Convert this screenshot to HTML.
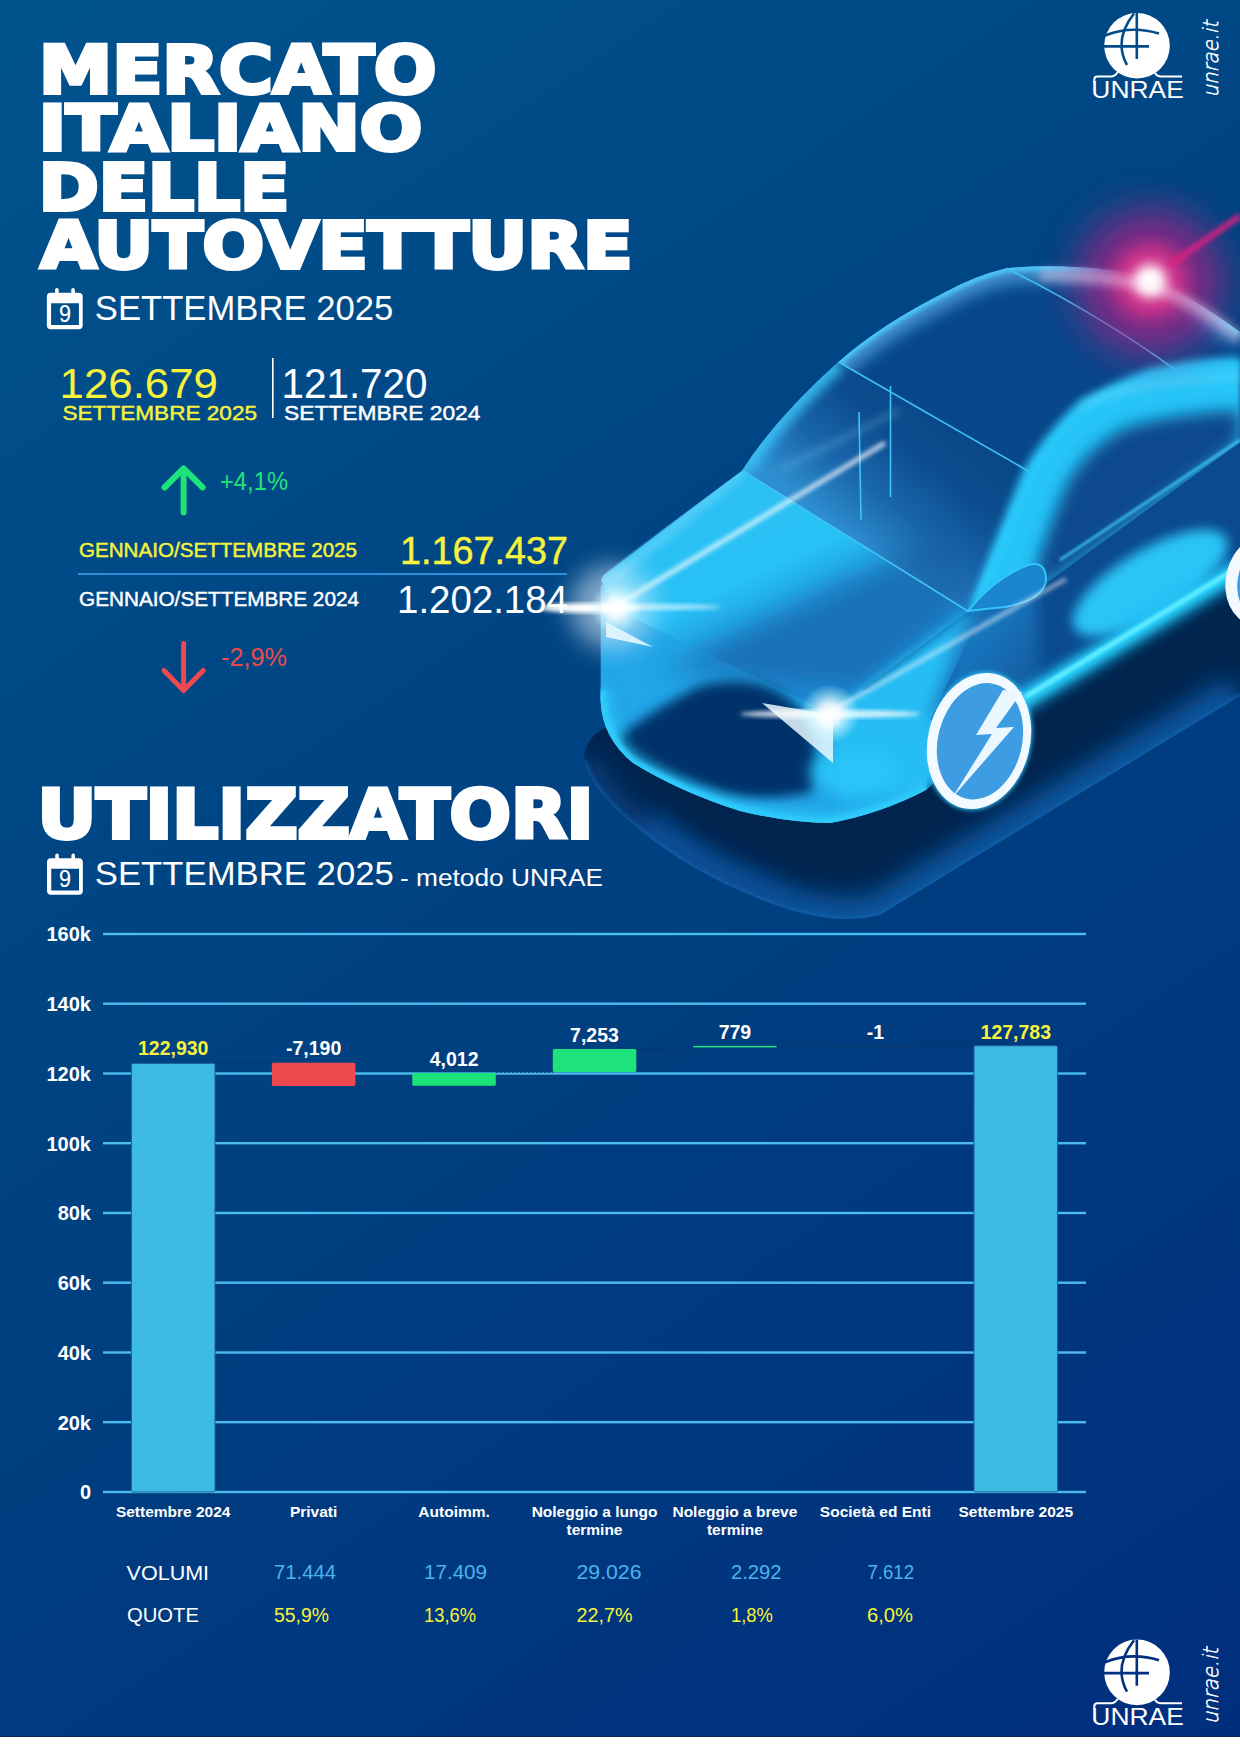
<!DOCTYPE html>
<html><head><meta charset="utf-8"><title>Mercato italiano delle autovetture - Settembre 2025</title>
<style>
html,body{margin:0;padding:0;background:#fff;}
#pg{position:relative;width:1240px;height:1755px;overflow:hidden;background:#fff;}
#bg{position:absolute;left:0;top:0;width:1240px;height:1737px;background:linear-gradient(146deg,#00538D 0%,#004080 52%,#002E7E 100%);}
svg{position:absolute;left:0;top:0;}
</style></head><body><div id="pg"><div id="bg"></div><div style="position:absolute;left:0;top:1736px;width:1240px;height:1px;background:#06285a"></div>
<svg width="1240" height="1755" viewBox="0 0 1240 1755" font-family='"Liberation Sans", Arial, sans-serif'><g id="car"><defs>
<filter id="b1" x="-20%" y="-20%" width="140%" height="140%"><feGaussianBlur stdDeviation="1"/></filter>
<filter id="b2" x="-20%" y="-20%" width="140%" height="140%"><feGaussianBlur stdDeviation="2"/></filter>
<filter id="b4" x="-30%" y="-30%" width="160%" height="160%"><feGaussianBlur stdDeviation="4"/></filter>
<filter id="b6" x="-30%" y="-30%" width="160%" height="160%"><feGaussianBlur stdDeviation="6"/></filter>
<filter id="b8" x="-30%" y="-30%" width="160%" height="160%"><feGaussianBlur stdDeviation="8"/></filter>
<filter id="b12" x="-40%" y="-40%" width="180%" height="180%"><feGaussianBlur stdDeviation="12"/></filter>
<filter id="b20" x="-50%" y="-50%" width="200%" height="200%"><feGaussianBlur stdDeviation="20"/></filter>
<radialGradient id="hl" cx="0.5" cy="0.5" r="0.5"><stop offset="0" stop-color="#fff"/><stop offset="0.35" stop-color="#fff" stop-opacity="0.85"/><stop offset="1" stop-color="#bff" stop-opacity="0"/></radialGradient>
<linearGradient id="shadowG" gradientUnits="userSpaceOnUse" x1="760" y1="760" x2="800" y2="915"><stop offset="0" stop-color="#01275A"/><stop offset="0.55" stop-color="#053670"/><stop offset="1" stop-color="#0B4A92"/></linearGradient>
<linearGradient id="wsG" gradientUnits="userSpaceOnUse" x1="800" y1="500" x2="900" y2="380"><stop offset="0" stop-color="#2E8FD0"/><stop offset="0.35" stop-color="#1A66AC"/><stop offset="0.7" stop-color="#0C4D8F"/><stop offset="1" stop-color="#0A4888"/></linearGradient>
<linearGradient id="crG" gradientUnits="userSpaceOnUse" x1="1090" y1="395" x2="1125" y2="470"><stop offset="0" stop-color="#2BCBFB"/><stop offset="0.6" stop-color="#24BEF4"/><stop offset="1" stop-color="#1468B0"/></linearGradient>
<linearGradient id="hoodG" gradientUnits="userSpaceOnUse" x1="700" y1="520" x2="760" y2="650"><stop offset="0" stop-color="#2DC0F4"/><stop offset="0.5" stop-color="#27C2F6"/><stop offset="1" stop-color="#1E8ED6"/></linearGradient>
<linearGradient id="doorG" gradientUnits="userSpaceOnUse" x1="1000" y1="600" x2="1100" y2="680"><stop offset="0" stop-color="#1A78C0"/><stop offset="1" stop-color="#0B4A8E"/></linearGradient>
<clipPath id="bodyClip"><path id="bodyP" d="M600.5 585 Q601 574 610 568 L742.3 470.5 Q776 418 838.5 362 Q880 325 947 291.3 Q975 276 1006.3 268.3 Q1040 265 1076.8 267.2 Q1120 269 1151 278.3 Q1190 296 1240 332 L1240 572 L1030 698 L926 790 Q880 814 830 823 Q790 823 740 811 Q680 792 633 763 Q602 738 600.5 700 Z"/></clipPath>
</defs><clipPath id="shClip"><path d="M610 726 Q585 735 584 760 Q590 790 640 830 Q700 880 790 910 Q840 925 880 915 L1240 696 L1240 560 Z"/></clipPath><path d="M610 726 Q585 735 584 760 Q590 790 640 830 Q700 880 790 910 Q840 925 880 915 L1240 696 L1240 560 Z" fill="#01254F"/><g clip-path="url(#shClip)"><path d="M640 830 Q700 880 790 910 Q840 925 880 915 L1240 696" fill="none" stroke="#0F5CA8" stroke-width="44" filter="url(#b12)" opacity="0.9"/><path d="M584 760 Q590 790 640 830 Q700 880 790 910" fill="none" stroke="#0A4A90" stroke-width="30" filter="url(#b12)" opacity="0.7"/><path d="M584 760 Q590 790 640 830 Q700 880 790 910 Q840 925 880 915 L1240 696" fill="none" stroke="#1566B2" stroke-width="4" filter="url(#b2)" opacity="0.8"/></g><use href="#bodyP" fill="#0C4D90"/><g clip-path="url(#bodyClip)"><path d="M838 362 Q900 315 1006 268 Q1100 262 1160 285 L1240 332 L1240 362 Q1150 365 1100 392 Q1060 420 1028 471 Z" fill="#07478A"/><path d="M742 471 Q776 418 838.5 362 Q880 325 947 291.3 Q975 276 1006.3 268.3 Q1040 265 1076.8 267.2 Q1120 269 1151 278.3 Q1190 296 1240 332" fill="none" stroke="#5AAEE6" stroke-width="30" opacity="0.75" filter="url(#b8)"/><path d="M742 471 Q776 418 838.5 362 Q880 325 947 291.3 Q975 276 1006.3 268.3 Q1040 265 1076.8 267.2 Q1120 269 1151 278.3 Q1190 296 1240 332" fill="none" stroke="#48C6F8" stroke-width="8" filter="url(#b2)"/><path d="M742.3 470.5 Q776 418 838.5 362 L1028.5 471.2 L968.5 611.5 Z" fill="url(#wsG)"/><path d="M742.3 470.5 Q776 418 838.5 362" fill="none" stroke="#3CC4F8" stroke-width="18" filter="url(#b6)" opacity="0.9"/><path d="M780 470 L900 410" stroke="#8fd4f5" stroke-width="5" opacity="0.35" filter="url(#b4)"/><path d="M600.5 585 L640 590 L830 690 L930 690 L926 790 Q880 814 830 823 Q790 823 740 811 Q680 792 633 763 Q602 738 600.5 700 Z" fill="#22A6E8"/><path d="M600 578 L742.3 470.5 L968.5 611.5 L830 712.7 L614.6 608.9 Z" fill="url(#hoodG)"/><path d="M660 670 L950 530 L968 600 L860 690 Z" fill="#125A9E" opacity="0.55" filter="url(#b12)"/><path d="M605 585 L742.3 470.5" stroke="#5FD2FA" stroke-width="10" filter="url(#b4)" opacity="0.8"/><path d="M830 712.7 L968.5 611.5 L1000 640 L930 790 L840 800 Z" fill="#27BDF4" filter="url(#b6)"/><path d="M612 744 Q640 716 700 686 Q740 676 770 688 Q800 700 812 730 Q820 760 812 792 Q770 802 730 796 Q670 782 635 763 Q616 752 612 744 Z" fill="#04306A" filter="url(#b6)"/><ellipse cx="855" cy="772" rx="45" ry="22" fill="#2BC6F8" filter="url(#b8)" opacity="0.9"/><path d="M600.5 690 Q602 738 633 763 Q680 792 740 811 Q790 823 830 823 Q880 814 926 790" fill="none" stroke="#2ECBFB" stroke-width="22" opacity="0.6" filter="url(#b6)"/><path d="M600.5 690 Q602 738 633 763 Q680 792 740 811 Q790 823 830 823 Q880 814 926 790" fill="none" stroke="#2ECBFB" stroke-width="10" filter="url(#b2)"/><path d="M600.5 585 L600.5 700" stroke="#52D4FF" stroke-width="8" filter="url(#b2)"/><path d="M968.5 611.5 Q1000 540 1028.5 471.2 Q1047 439.7 1076.8 410 Q1110 388 1151 373 Q1190 364 1240 361.8 L1240 446 L1037 592 Z" fill="#27C4F7" filter="url(#b2)"/><path d="M1240 410 Q1180 413 1130 426 Q1090 444 1068 482 Q1050 522 1035 572 L1040 590 L1240 442 Z" fill="#0A4A8C" filter="url(#b8)"/><path d="M975 608 Q1000 540 1028.5 471.2 Q1047 439.7 1076.8 410 Q1110 388 1151 373 Q1190 364 1240 361.8" fill="none" stroke="#2ACBFC" stroke-width="10" filter="url(#b4)"/><path d="M1080 405 Q1140 380 1240 376" fill="none" stroke="#5AD8FF" stroke-width="8" opacity="0.6" filter="url(#b4)"/><path d="M985 606 L1037 590 L1240 442 L1240 572 L1030 698 L930 720 Z" fill="#0B4A8E"/><path d="M1060 560 L1240 440" stroke="#3FC8F8" stroke-width="3" opacity="0.8" filter="url(#b1)"/><path d="M968.5 611.5 L1037 590 L1040 690 L930 720 Z" fill="url(#doorG)" filter="url(#b8)"/><ellipse cx="1150" cy="583" rx="88" ry="33" transform="rotate(-31 1150 583)" fill="#2BC4F6" filter="url(#b6)"/></g><path d="M1015 706 L1240 570" stroke="#1FB8F0" stroke-width="26" opacity="0.55" filter="url(#b6)"/><path d="M1020 702 L1240 568" stroke="#26D4FF" stroke-width="14" filter="url(#b4)"/><path d="M1020 700 L1240 566" stroke="#5CE8FF" stroke-width="5" filter="url(#b1)"/><path d="M968 611 Q995 578 1028 565 Q1046 560 1046 580 Q1044 600 1005 607 Q985 609 968 611 Z" fill="#1A86D0" stroke="#36C4F8" stroke-width="2"/><g stroke="#3FC3F7" stroke-width="1.6" fill="none"><path d="M838.5 362 L1028.5 471.2"/><path d="M742.3 470.5 L968.5 611.5"/><path d="M1006.3 268.3 Q1100 315 1177 371"/><path d="M859 412 L861 520"/><path d="M890.5 386 L890.5 497"/></g><path d="M614 607 L885 443" stroke="#ffffff" stroke-width="5" opacity="0.7" filter="url(#b2)"/><path d="M830 712 L1066 579" stroke="#ffffff" stroke-width="4" opacity="0.55" filter="url(#b2)"/><polygon points="606,622 653,647 606,637" fill="#e8f8ff" opacity="0.9"/><polygon points="762,703 833,715 833,763" fill="#e8f8ff" opacity="0.85"/><circle cx="612" cy="607" r="42" fill="#e6f4ff" opacity="0.55" filter="url(#b12)"/><ellipse cx="590" cy="608" rx="50" ry="5" fill="#fff" filter="url(#b2)"/><ellipse cx="660" cy="607" rx="60" ry="3" fill="#fff" opacity="0.6" filter="url(#b2)"/><circle cx="616" cy="608" r="26" fill="url(#hl)"/><ellipse cx="830" cy="714" rx="90" ry="4" fill="#fff" opacity="0.8" filter="url(#b2)"/><circle cx="830" cy="714" r="30" fill="url(#hl)"/><g transform="rotate(14 979 741)"><ellipse cx="979" cy="741" rx="52" ry="70" fill="#2EC0F5" filter="url(#b2)"/><ellipse cx="979" cy="741" rx="51" ry="69" fill="#F2FAFF"/><ellipse cx="980" cy="741" rx="42" ry="59" fill="#3E9CE2"/></g><path d="M1003 690 L976 735 L992 734 L952 798 L1014 727 L996 728 L1022 692 Z" fill="#EAF7FF"/><g transform="rotate(14 1262 580)"><ellipse cx="1262" cy="580" rx="36" ry="46" fill="#F2FAFF"/><ellipse cx="1266" cy="580" rx="28" ry="38" fill="#3E9CE2"/></g><circle cx="1150" cy="282" r="72" fill="#A82385" opacity="0.8" filter="url(#b20)"/><circle cx="1150" cy="281" r="36" fill="#D8358C" opacity="0.9" filter="url(#b8)"/><path d="M1168 266 L1240 216" stroke="#D82080" stroke-width="7" opacity="0.85" filter="url(#b2)"/><path d="M1040 275 Q1100 275 1150 286 Q1200 303 1240 339" fill="none" stroke="#f0d8f0" stroke-width="12" opacity="0.45" filter="url(#b4)"/><circle cx="1150" cy="281" r="17" fill="#ffeaf4" filter="url(#b6)"/><circle cx="1150" cy="281" r="8" fill="#fff" filter="url(#b4)"/></g><text x="39.1" y="92.8" font-size="65.16" fill="#fff" font-weight="700" textLength="397.4" lengthAdjust="spacingAndGlyphs" stroke="#fff" stroke-width="4.0" stroke-linejoin="miter" font-family="DejaVu Sans">MERCATO</text><text x="38.7" y="150.0" font-size="63.1" fill="#fff" font-weight="700" textLength="383.4" lengthAdjust="spacingAndGlyphs" stroke="#fff" stroke-width="4.0" stroke-linejoin="miter" font-family="DejaVu Sans">ITALIANO</text><text x="38.7" y="209.7" font-size="64.2" fill="#fff" font-weight="700" textLength="250.8" lengthAdjust="spacingAndGlyphs" stroke="#fff" stroke-width="4.0" stroke-linejoin="miter" font-family="DejaVu Sans">DELLE</text><text x="40.5" y="268.0" font-size="63.51" fill="#fff" font-weight="700" textLength="592.0" lengthAdjust="spacingAndGlyphs" stroke="#fff" stroke-width="4.0" stroke-linejoin="miter" font-family="DejaVu Sans">AUTOVETTURE</text><text x="94.8" y="319.8" font-size="34.5" fill="#fff" textLength="298.5" lengthAdjust="spacingAndGlyphs">SETTEMBRE 2025</text><text x="59.5" y="398.0" font-size="43" fill="#F7F23C" textLength="158.5" lengthAdjust="spacingAndGlyphs">126.679</text><text x="62.5" y="420.0" font-size="21" fill="#F7F23C" textLength="194.5" lengthAdjust="spacingAndGlyphs" stroke="#F7F23C" stroke-width="0.45">SETTEMBRE 2025</text><text x="281.5" y="398.0" font-size="43" fill="#fff" textLength="146.0" lengthAdjust="spacingAndGlyphs">121.720</text><text x="284.0" y="420.0" font-size="21" fill="#fff" textLength="196.5" lengthAdjust="spacingAndGlyphs" stroke="#fff" stroke-width="0.45">SETTEMBRE 2024</text><rect x="272" y="358" width="1.6" height="60" fill="#fff"/><text x="220.0" y="489.5" font-size="25.5" fill="#1EE37A" textLength="68.0" lengthAdjust="spacingAndGlyphs">+4,1%</text><text x="79.0" y="557.0" font-size="20" fill="#F7F23C" textLength="278.0" lengthAdjust="spacingAndGlyphs" stroke="#F7F23C" stroke-width="0.45">GENNAIO/SETTEMBRE 2025</text><text x="400.0" y="563.7" font-size="38" fill="#F7F23C" textLength="168.0" lengthAdjust="spacingAndGlyphs" stroke="#F7F23C" stroke-width="0.45">1.167.437</text><rect x="78" y="573" width="489" height="2" fill="#2E8EDC"/><text x="79.0" y="606.0" font-size="20" fill="#fff" textLength="280.0" lengthAdjust="spacingAndGlyphs" stroke="#fff" stroke-width="0.45">GENNAIO/SETTEMBRE 2024</text><text x="397.0" y="612.5" font-size="38" fill="#fff" textLength="171.0" lengthAdjust="spacingAndGlyphs">1.202.184</text><text x="221.0" y="666.0" font-size="25.5" fill="#EE4A4D" textLength="66.0" lengthAdjust="spacingAndGlyphs">-2,9%</text><path d="M183.6 512.5 V469 M164.5 487.5 L183.6 468.5 L202.7 487.5" fill="none" stroke="#1EE37A" stroke-width="6" stroke-linecap="round" stroke-linejoin="round"/><path d="M183.6 643.5 V690 M164 670.5 L183.6 690.5 L203.2 670.5" fill="none" stroke="#EE4A4D" stroke-width="5" stroke-linecap="round" stroke-linejoin="round"/><text x="37.5" y="838.0" font-size="67.22" fill="#fff" font-weight="700" textLength="556.0" lengthAdjust="spacingAndGlyphs" stroke="#fff" stroke-width="4.0" stroke-linejoin="miter" font-family="DejaVu Sans">UTILIZZATORI</text><text x="94.8" y="885.0" font-size="33" fill="#fff" textLength="299.0" lengthAdjust="spacingAndGlyphs">SETTEMBRE 2025</text><text x="400.0" y="885.8" font-size="23.5" fill="#fff" textLength="203.0" lengthAdjust="spacingAndGlyphs">- metodo UNRAE</text><g transform="translate(0,0)" fill="#fff"><path fill-rule="evenodd" d="M50.85 292.7 H78.7 Q82.7 292.7 82.7 296.7 V325.2 Q82.7 329.2 78.7 329.2 H50.85 Q46.85 329.2 46.85 325.2 V296.7 Q46.85 292.7 50.85 292.7 Z M51.1 303.2 V325 H78.9 V303.2 Z"/><rect x="55.1" y="288" width="3.6" height="7" rx="1.8"/><rect x="71.25" y="288" width="3.6" height="7" rx="1.8"/><text x="64.9" y="321.6" font-size="23" fill="#fff" stroke="#fff" stroke-width="0.15" text-anchor="middle" textLength="12" lengthAdjust="spacingAndGlyphs">9</text></g><g transform="translate(0.15,565.6)" fill="#fff"><path fill-rule="evenodd" d="M50.85 292.7 H78.7 Q82.7 292.7 82.7 296.7 V325.2 Q82.7 329.2 78.7 329.2 H50.85 Q46.85 329.2 46.85 325.2 V296.7 Q46.85 292.7 50.85 292.7 Z M51.1 303.2 V325 H78.9 V303.2 Z"/><rect x="55.1" y="288" width="3.6" height="7" rx="1.8"/><rect x="71.25" y="288" width="3.6" height="7" rx="1.8"/><text x="64.9" y="321.6" font-size="23" fill="#fff" stroke="#fff" stroke-width="0.15" text-anchor="middle" textLength="12" lengthAdjust="spacingAndGlyphs">9</text></g><rect x="103" y="1490.8" width="983" height="2.4" fill="#4BBCEE"/><text x="91.0" y="1499.2" font-size="20" fill="#fff" font-weight="700" text-anchor="end">0</text><rect x="103" y="1421.0" width="983" height="2.4" fill="#4BBCEE"/><text x="91.0" y="1429.5" font-size="20" fill="#fff" font-weight="700" text-anchor="end">20k</text><rect x="103" y="1351.3" width="983" height="2.4" fill="#4BBCEE"/><text x="91.0" y="1359.7" font-size="20" fill="#fff" font-weight="700" text-anchor="end">40k</text><rect x="103" y="1281.5" width="983" height="2.4" fill="#4BBCEE"/><text x="91.0" y="1290.0" font-size="20" fill="#fff" font-weight="700" text-anchor="end">60k</text><rect x="103" y="1211.8" width="983" height="2.4" fill="#4BBCEE"/><text x="91.0" y="1220.2" font-size="20" fill="#fff" font-weight="700" text-anchor="end">80k</text><rect x="103" y="1142.0" width="983" height="2.4" fill="#4BBCEE"/><text x="91.0" y="1150.5" font-size="20" fill="#fff" font-weight="700" text-anchor="end">100k</text><rect x="103" y="1072.3" width="983" height="2.4" fill="#4BBCEE"/><text x="91.0" y="1080.7" font-size="20" fill="#fff" font-weight="700" text-anchor="end">120k</text><rect x="103" y="1002.5" width="983" height="2.4" fill="#4BBCEE"/><text x="91.0" y="1011.0" font-size="20" fill="#fff" font-weight="700" text-anchor="end">140k</text><rect x="103" y="932.8" width="983" height="2.4" fill="#4BBCEE"/><text x="91.0" y="941.2" font-size="20" fill="#fff" font-weight="700" text-anchor="end">160k</text><rect x="131.5" y="1063.4" width="83.5" height="428.6" rx="1.5" fill="#3DBBE5" stroke="#1f6396" stroke-width="1"/><rect x="271.9" y="1062.7" width="83.5" height="23.3" rx="1.5" fill="#EE4A4D"/><rect x="412.3" y="1073.0" width="83.5" height="12.7" rx="1.5" fill="#1EE37A"/><rect x="552.8" y="1048.9" width="83.5" height="23.1" rx="1.5" fill="#1EE37A"/><rect x="693.2" y="1045.9" width="83.5" height="1.5" rx="0" fill="#1EE37A"/><rect x="833.6" y="1044.7" width="83.5" height="1.2" rx="0" fill="#173a66"/><rect x="974.0" y="1045.8" width="83.5" height="446.2" rx="1.5" fill="#3DBBE5" stroke="#1f6396" stroke-width="1"/><path d="M215.0 1063.2 H271.9" stroke="#0b2a55" stroke-width="1" stroke-dasharray="2 2" opacity="0.8"/><path d="M355.4 1086 H412.3" stroke="#0b2a55" stroke-width="1" stroke-dasharray="2 2" opacity="0.8"/><path d="M495.8 1072.5 H552.8" stroke="#0b2a55" stroke-width="1" stroke-dasharray="2 2" opacity="0.8"/><path d="M636.2 1049 H693.2" stroke="#0b2a55" stroke-width="1" stroke-dasharray="2 2" opacity="0.8"/><path d="M776.7 1046.2 H833.6" stroke="#0b2a55" stroke-width="1" stroke-dasharray="2 2" opacity="0.8"/><path d="M917.1 1045.6 H974.0" stroke="#0b2a55" stroke-width="1" stroke-dasharray="2 2" opacity="0.8"/><text x="173.2" y="1055.3" font-size="19.5" fill="#F7F23C" font-weight="700" text-anchor="middle">122,930</text><text x="313.6" y="1055.4" font-size="19.5" fill="#fff" font-weight="700" text-anchor="middle">-7,190</text><text x="454.1" y="1066.3" font-size="19.5" fill="#fff" font-weight="700" text-anchor="middle">4,012</text><text x="594.5" y="1041.5" font-size="19.5" fill="#fff" font-weight="700" text-anchor="middle">7,253</text><text x="734.9" y="1039.0" font-size="19.5" fill="#fff" font-weight="700" text-anchor="middle">779</text><text x="875.4" y="1039.0" font-size="19.5" fill="#fff" font-weight="700" text-anchor="middle">-1</text><text x="1015.8" y="1038.7" font-size="19.5" fill="#F7F23C" font-weight="700" text-anchor="middle">127,783</text><text x="173.2" y="1517.3" font-size="15.5" fill="#fff" font-weight="700" text-anchor="middle">Settembre 2024</text><text x="313.6" y="1517.3" font-size="15.5" fill="#fff" font-weight="700" text-anchor="middle">Privati</text><text x="454.1" y="1517.3" font-size="15.5" fill="#fff" font-weight="700" text-anchor="middle">Autoimm.</text><text x="594.5" y="1517.3" font-size="15.5" fill="#fff" font-weight="700" text-anchor="middle">Noleggio a lungo</text><text x="594.5" y="1535.3" font-size="15.5" fill="#fff" font-weight="700" text-anchor="middle">termine</text><text x="734.9" y="1517.3" font-size="15.5" fill="#fff" font-weight="700" text-anchor="middle">Noleggio a breve</text><text x="734.9" y="1535.3" font-size="15.5" fill="#fff" font-weight="700" text-anchor="middle">termine</text><text x="875.4" y="1517.3" font-size="15.5" fill="#fff" font-weight="700" text-anchor="middle">Società ed Enti</text><text x="1015.8" y="1517.3" font-size="15.5" fill="#fff" font-weight="700" text-anchor="middle">Settembre 2025</text><text x="126.6" y="1579.5" font-size="20.5" fill="#fff" textLength="82.5" lengthAdjust="spacingAndGlyphs">VOLUMI</text><text x="127.0" y="1622.0" font-size="20.5" fill="#fff" textLength="72.0" lengthAdjust="spacingAndGlyphs">QUOTE</text><text x="274.0" y="1579.3" font-size="20.5" fill="#4DB3EC" textLength="62.0" lengthAdjust="spacingAndGlyphs">71.444</text><text x="424.0" y="1579.3" font-size="20.5" fill="#4DB3EC" textLength="63.0" lengthAdjust="spacingAndGlyphs">17.409</text><text x="576.5" y="1579.3" font-size="20.5" fill="#4DB3EC" textLength="65.0" lengthAdjust="spacingAndGlyphs">29.026</text><text x="731.0" y="1579.3" font-size="20.5" fill="#4DB3EC" textLength="50.5" lengthAdjust="spacingAndGlyphs">2.292</text><text x="867.5" y="1579.3" font-size="20.5" fill="#4DB3EC" textLength="46.5" lengthAdjust="spacingAndGlyphs">7.612</text><text x="274.0" y="1622.3" font-size="20.5" fill="#F7F23C" textLength="55.0" lengthAdjust="spacingAndGlyphs">55,9%</text><text x="424.0" y="1622.3" font-size="20.5" fill="#F7F23C" textLength="52.0" lengthAdjust="spacingAndGlyphs">13,6%</text><text x="576.5" y="1622.3" font-size="20.5" fill="#F7F23C" textLength="56.0" lengthAdjust="spacingAndGlyphs">22,7%</text><text x="731.0" y="1622.3" font-size="20.5" fill="#F7F23C" textLength="42.0" lengthAdjust="spacingAndGlyphs">1,8%</text><text x="867.0" y="1622.3" font-size="20.5" fill="#F7F23C" textLength="46.0" lengthAdjust="spacingAndGlyphs">6,0%</text><g transform="translate(0,0)"><circle cx="1137" cy="45.7" r="32.8" fill="#fff"/><path d="M1105 35.5 Q1131 25 1159 33.5" fill="none" stroke="#004C8A" stroke-width="2.6"/><path d="M1104 46.4 H1149" fill="none" stroke="#004C8A" stroke-width="2.6"/><path d="M1136.8 13 V59" fill="none" stroke="#004C8A" stroke-width="2.6"/><path d="M1134 13.5 Q1121 30 1121.5 46 Q1122 56 1127 65" fill="none" stroke="#004C8A" stroke-width="2.6"/><path fill="none" stroke="#fff" stroke-width="2" d="M1117.8 72 Q1115 76.5 1111 76.5 H1097.3 Q1094.3 76.5 1094.3 79.5 V83 M1155 73 Q1157 76.5 1161 76.5 H1182"/><text x="1091.3" y="98" font-size="23" fill="#fff" textLength="92.5" lengthAdjust="spacingAndGlyphs">UNRAE</text></g><text transform="translate(1217.5,97.5) rotate(-90) skewX(-13)" font-size="21" fill="#fff" font-family="DejaVu Sans" font-weight="200" stroke="#fff" stroke-width="0.55" textLength="76.5" lengthAdjust="spacingAndGlyphs">unrae.it</text><g transform="translate(0,1626.7)"><circle cx="1137" cy="45.7" r="32.8" fill="#fff"/><path d="M1105 35.5 Q1131 25 1159 33.5" fill="none" stroke="#00307E" stroke-width="2.6"/><path d="M1104 46.4 H1149" fill="none" stroke="#00307E" stroke-width="2.6"/><path d="M1136.8 13 V59" fill="none" stroke="#00307E" stroke-width="2.6"/><path d="M1134 13.5 Q1121 30 1121.5 46 Q1122 56 1127 65" fill="none" stroke="#00307E" stroke-width="2.6"/><path fill="none" stroke="#fff" stroke-width="2" d="M1117.8 72 Q1115 76.5 1111 76.5 H1097.3 Q1094.3 76.5 1094.3 79.5 V83 M1155 73 Q1157 76.5 1161 76.5 H1182"/><text x="1091.3" y="98" font-size="23" fill="#fff" textLength="92.5" lengthAdjust="spacingAndGlyphs">UNRAE</text></g><text transform="translate(1217.5,1724.2) rotate(-90) skewX(-13)" font-size="21" fill="#fff" font-family="DejaVu Sans" font-weight="200" stroke="#fff" stroke-width="0.55" textLength="76.5" lengthAdjust="spacingAndGlyphs">unrae.it</text></svg>
</div></body></html>
